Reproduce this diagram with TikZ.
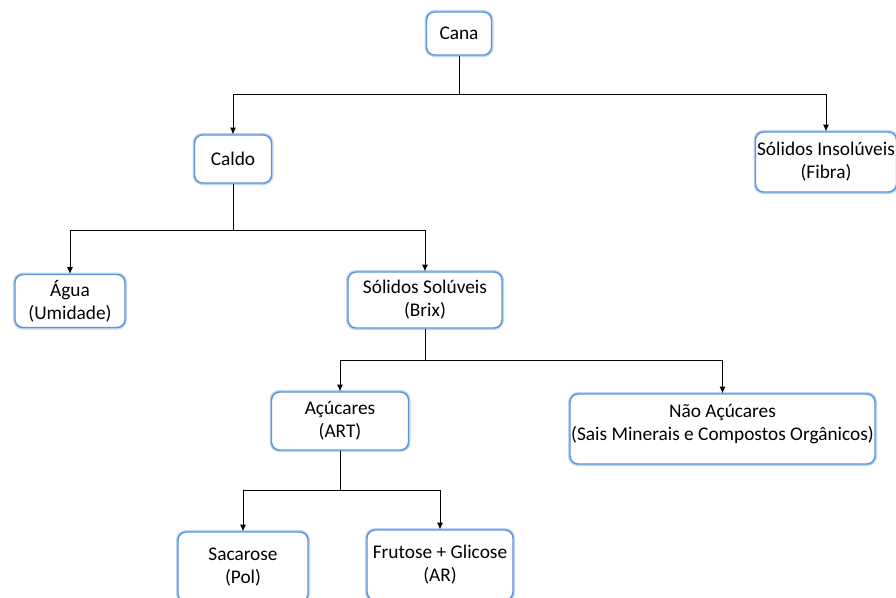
\documentclass[tikz,border=0pt]{standalone}
\usepackage{fontspec}
\setmainfont{Carlito}
\usetikzlibrary{arrows.meta}
\definecolor{boxblue}{RGB}{91,150,215}
\definecolor{glowblue}{RGB}{190,212,242}
\tikzset{
  caixa/.style={draw=boxblue,line width=1.1pt,rounded corners=6pt,fill=white,align=center,
    inner sep=0pt,preaction={draw=glowblue,line width=3pt}},
  seta/.style={->,line width=0.6pt}
}
\begin{document}
\begin{tikzpicture}[x=0.75pt,y=-0.75pt,>={Latex[length=5pt,width=4.5pt]},font=\fontsize{14.5pt}{17.3pt}\selectfont]
\useasboundingbox (0,0) rectangle (896,597);
\node[caixa,minimum width=48.75pt,minimum height=32.25pt] (cana) at (459,33.5) {Cana};
\node[caixa,minimum width=57.75pt,minimum height=36pt] (caldo) at (233,159) {Caldo};
\node[caixa,minimum width=105.75pt,minimum height=45pt] (insol) at (826,162) {Sólidos Insolúveis\\(Fibra)};
\node[caixa,minimum width=82.5pt,minimum height=39.75pt] (agua) at (70,301) {Água\\(Umidade)};
\node[caixa,minimum width=115.5pt,minimum height=42pt] (soluv) at (425,300) {Sólidos Solúveis\\(Brix)};
\node[caixa,minimum width=102.75pt,minimum height=43.5pt] (acuc) at (340,421) {Açúcares\\(ART)};
\node[caixa,minimum width=228.75pt,minimum height=52.5pt] (naoacuc) at (722.5,429) {Não Açúcares\\(Sais Minerais e Compostos Orgânicos)\\[-7pt]};
\node[caixa,minimum width=97.5pt,minimum height=52.5pt] (sacar) at (243,567) {Sacarose\\(Pol)};
\node[caixa,minimum width=109.5pt,minimum height=52.5pt] (frut) at (440,565) {Frutose + Glicose\\(AR)};
% junctions
\coordinate (j1) at (459,94);
\coordinate (j2) at (233,230);
\coordinate (j3) at (425,360);
\coordinate (j4) at (340,490);
\draw[seta,-] (cana.south)--(j1);
\draw[seta] (j1)-|(caldo.north);
\draw[seta] (j1)-|(insol.north);
\draw[seta,-] (caldo.south)--(j2);
\draw[seta] (j2)-|(agua.north);
\draw[seta] (j2)-|(soluv.north);
\draw[seta,-] (soluv.south)--(j3);
\draw[seta] (j3)-|(acuc.north);
\draw[seta] (j3)-|(naoacuc.north);
\draw[seta,-] (acuc.south)--(j4);
\draw[seta] (j4)-|(sacar.north);
\draw[seta] (j4)-|(frut.north);
\end{tikzpicture}
\end{document}
